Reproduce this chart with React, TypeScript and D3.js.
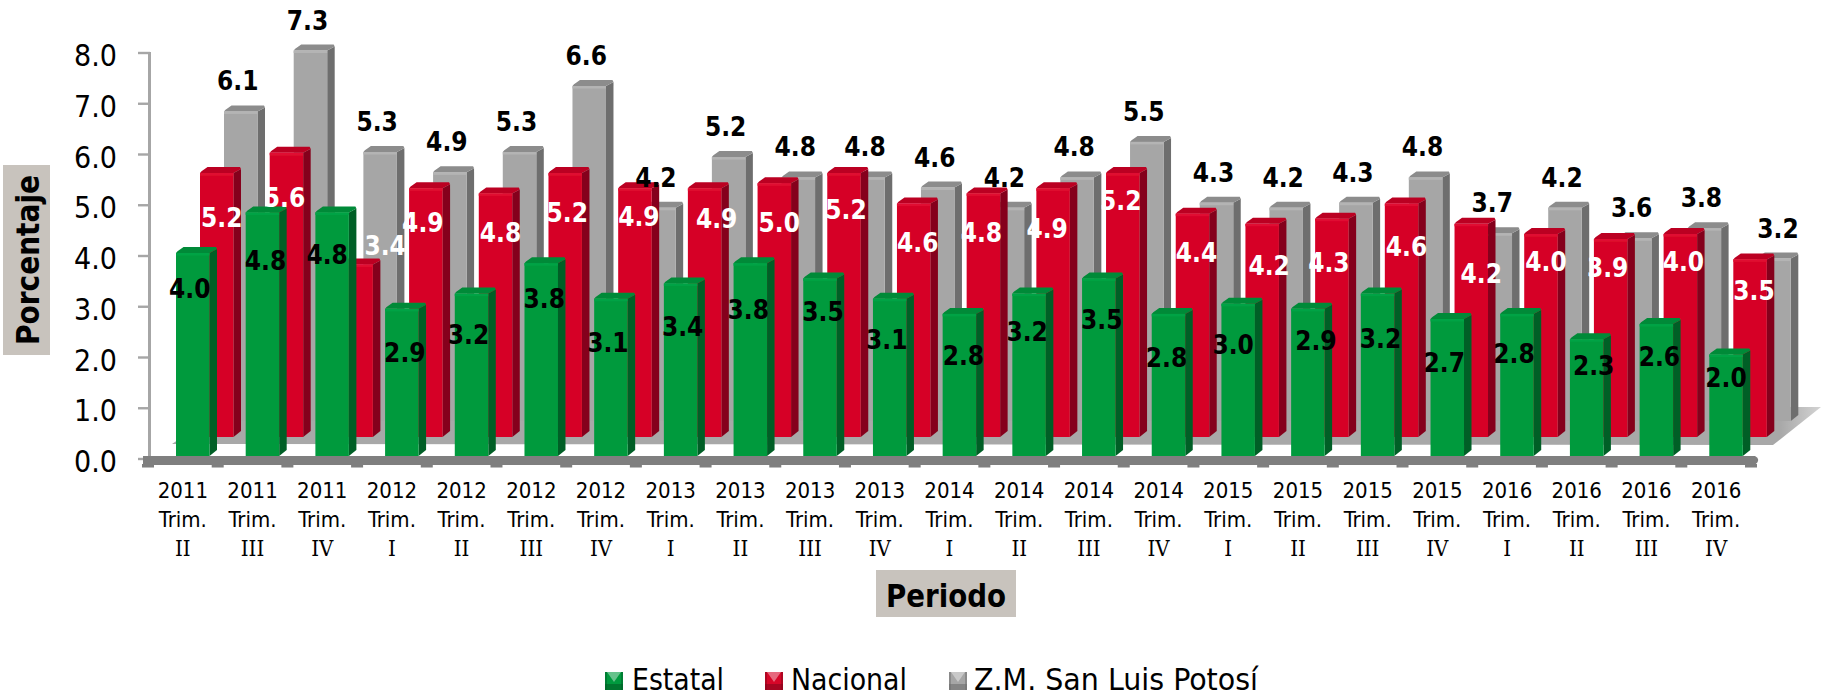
import React from "react";
import * as d3 from "d3";

// ---- data ----
const years = ["2011","2011","2011","2012","2012","2012","2012","2013","2013","2013","2013","2014","2014","2014","2014","2015","2015","2015","2015","2016","2016","2016","2016"];
const quarters = ["II","III","IV","I","II","III","IV","I","II","III","IV","I","II","III","IV","I","II","III","IV","I","II","III","IV"];
const estatal = [4.0,4.8,4.8,2.9,3.2,3.8,3.1,3.4,3.8,3.5,3.1,2.8,3.2,3.5,2.8,3.0,2.9,3.2,2.7,2.8,2.3,2.6,2.0];
const nacional = [5.2,5.6,3.4,4.9,4.8,5.2,4.9,4.9,5.0,5.2,4.6,4.8,4.9,5.2,4.4,4.2,4.3,4.6,4.2,4.0,3.9,4.0,3.5];
const zmslp = [6.1,7.3,5.3,4.9,5.3,6.6,4.2,5.2,4.8,4.8,4.6,4.2,4.8,5.5,4.3,4.2,4.3,4.8,3.7,4.2,3.6,3.8,3.2];

// ---- hand placement of the data labels, relative to each bar's top centre ----
const estatalDx = [-3,3,-5,3,-3,3,-3,2,-2,3,-3,4,-2,3,-2,-5,8,3,-3,-3,7,3,0];
const estatalDy = [36,49,43,44,41,36,44,44,47,34,41,42,38,42,44,41,32,45,44,40,27,33,23];
const nacionalDx = [5,-2,29,-3,5,2,4,12,5,2,4,-2,-6,-2,4,7,-3,5,10,5,-3,3,4];
const nacionalDy = [45,45,-18,35,40,40,29,31,40,37,39,40,41,28,39,42,44,43,50,28,29,28,32];

const W = 1825, H = 693;
const FONT = "'DejaVu Sans Condensed','DejaVu Sans',sans-serif";
const SERIF = "'DejaVu Serif Condensed','DejaVu Serif',serif";

const idx = d3.range(years.length);
const x = d3.scaleBand<number>().domain(idx).range([148, 1751]);
const y = d3.scaleLinear().domain([0, 8]).range([459, 53]);
const BAR_W = 33.5, DX = 7.5, DY = 6;

type Series = { name: string; values: number[]; xOff: number; lift: number; front: string; side: string; top: string; hi: string; };
const gray: Series = { name: "Z.M. San Luis Potosí", values: zmslp, xOff: 76, lift: 38, front: "#a6a6a6", side: "#6e6e6e", top: "#8c8c8c", hi: "#b4b4b4" };
const red: Series = { name: "Nacional", values: nacional, xOff: 52, lift: 22, front: "#d60628", side: "#85051c", top: "#bb0524", hi: "#e00a30" };
const green: Series = { name: "Estatal", values: estatal, xOff: 28, lift: 3, front: "#009a3e", side: "#005f27", top: "#008a37", hi: "#03a345" };

function Bars({ s }: { s: Series }) {
  const base = y(0) - s.lift;
  return (
    <g>
      {s.values.map((v, i) => {
        const l = x(i)! + s.xOff, r = l + BAR_W, t = y(v) - s.lift;
        return (
          <g key={i}>
            <polygon points={`${r},${t} ${r + DX},${t - DY + 2} ${r + DX},${base - DY} ${r},${base}`} fill={s.side} />
            <path d={`M${l},${t} Q${l + 1},${t - 2} ${l + 4},${t - 3.5} L${l + DX},${t - DY} L${r + DX - 1},${t - DY} L${r + DX},${t - DY + 2} L${r},${t} Z`} fill={s.top} />
            <rect x={l} y={t} width={BAR_W} height={base - t} fill={s.front} />
            <rect x={l} y={t} width={BAR_W} height={2.5} fill={s.hi} />
          </g>
        );
      })}
    </g>
  );
}

function ValueLabels({ s, fill, dx, dy }: { s: Series; fill: string; dx: (i: number) => number; dy: (i: number) => number }) {
  return (
    <g fontFamily={FONT} fontWeight="bold" fontSize={26} fill={fill} textAnchor="middle" style={{ fontStretch: "condensed" }}>
      {s.values.map((v, i) => (
        <text key={i} x={x(i)! + s.xOff + BAR_W / 2 + dx(i)} y={y(v) - s.lift + dy(i)} dominantBaseline="central">
          {d3.format(".1f")(v)}
        </text>
      ))}
    </g>
  );
}

function Swatch({ px, s }: { px: number; s: Series }) {
  return (
    <g>
      <rect x={px} y={672} width={18} height={18} fill={s.front} />
      <rect x={px} y={684} width={18} height={6} fill={s.side} opacity={0.6} />
      <rect x={px} y={672} width={2} height={18} fill={s.side} opacity={0.5} />
      <rect x={px + 16} y={672} width={2} height={18} fill={s.side} opacity={0.5} />
      <polygon points={`${px + 2},${672} ${px + 16},${672} ${px + 9},${682}`} fill="#fff" opacity={0.4} />
    </g>
  );
}

function LegendText({ px, len, s }: { px: number; len: number; s: Series }) {
  return (
    <text x={px} y={690} fontFamily={FONT} fontSize={30} textLength={len} lengthAdjust="spacingAndGlyphs" fill="#000">{s.name}</text>
  );
}

export default function App() {
  const floor = `172,444 1773,445 1821,407 226,407`;
  return (
    <svg width={W} height={H} viewBox={`0 0 ${W} ${H}`} style={{ position: "absolute", left: 0, top: 0, display: "block", background: "#fff" }}>
      <defs>
        <linearGradient id="floorFade" x1="0" x2="1" y1="0" y2="0">
          <stop offset="0" stopColor="#a8a8a8" />
          <stop offset="0.975" stopColor="#a8a8a8" />
          <stop offset="1" stopColor="#d4d4d4" />
        </linearGradient>
        <filter id="soft" x="-2%" y="-2%" width="104%" height="104%">
          <feGaussianBlur stdDeviation="0.45" />
        </filter>
      </defs>

      {/* value axis */}
      <rect x={148} y={y(8) - 1} width={3} height={y(0) - y(8)} fill="#a6a6a6" />
      {y.ticks(8).map((t) => (
        <g key={t}>
          <rect x={138} y={y(t) - 1.2} width={12} height={2.4} fill="#a6a6a6" />
          <text x={117} y={y(t) + 2.5} textAnchor="end" dominantBaseline="central" fontFamily={FONT} fontSize={30} fill="#000" style={{ fontStretch: "condensed" }}>
            {d3.format(".1f")(t)}
          </text>
        </g>
      ))}

      {/* marks */}
      <g filter="url(#soft)">
        <polygon points={floor} fill="url(#floorFade)" />
        <Bars s={gray} />
        <Bars s={red} />
        <Bars s={green} />
        {/* category axis */}
        <path d={`M143,456 H1755 Q1759,458 1758,461 Q1757,465 1751,465 H143 Z`} fill="#7f7f7f" />
        {d3.range(years.length + 1).map((i) => (
          <rect key={i} x={148 + i * x.step() - 6} y={464} width={12} height={3.5} fill="#7f7f7f" />
        ))}
      </g>

      {/* data labels */}
      <ValueLabels s={gray} fill="#000" dx={(i) => (i === zmslp.length - 1 ? 4 : -3)} dy={() => -30} />
      <ValueLabels s={red} fill="#fff" dx={(i) => nacionalDx[i]} dy={(i) => nacionalDy[i]} />
      <ValueLabels s={green} fill="#000" dx={(i) => estatalDx[i]} dy={(i) => estatalDy[i]} />

      {/* category labels */}
      <g fontSize={22} fill="#000" textAnchor="middle" fontFamily={FONT} style={{ fontStretch: "condensed" }}>
        {idx.map((i) => {
          const cx = x(i)! + x.bandwidth() / 2;
          return (
            <g key={i}>
              <text x={cx} y={490} dominantBaseline="central">{years[i]}</text>
              <text x={cx} y={519.5} dominantBaseline="central">Trim.</text>
              <text x={cx} y={548} dominantBaseline="central" fontFamily={SERIF}>{quarters[i]}</text>
            </g>
          );
        })}
      </g>

      {/* axis titles */}
      <rect x={3} y={165} width={47} height={190} fill="#c8c3bd" />
      <text transform="translate(39,260) rotate(-90)" textAnchor="middle" fontFamily={FONT} fontWeight="bold" fontSize={32} textLength={170} lengthAdjust="spacingAndGlyphs" fill="#000">Porcentaje</text>
      <rect x={876} y={570} width={140} height={47} fill="#c8c3bd" />
      <text x={946} y={607} textAnchor="middle" fontFamily={FONT} fontWeight="bold" fontSize={32} textLength={120} lengthAdjust="spacingAndGlyphs" fill="#000">Periodo</text>

      {/* legend */}
      <Swatch px={605} s={green} />
      <LegendText px={632} len={92} s={green} />
      <Swatch px={765} s={red} />
      <LegendText px={791} len={116} s={red} />
      <Swatch px={949} s={gray} />
      <LegendText px={974} len={284} s={gray} />
    </svg>
  );
}
